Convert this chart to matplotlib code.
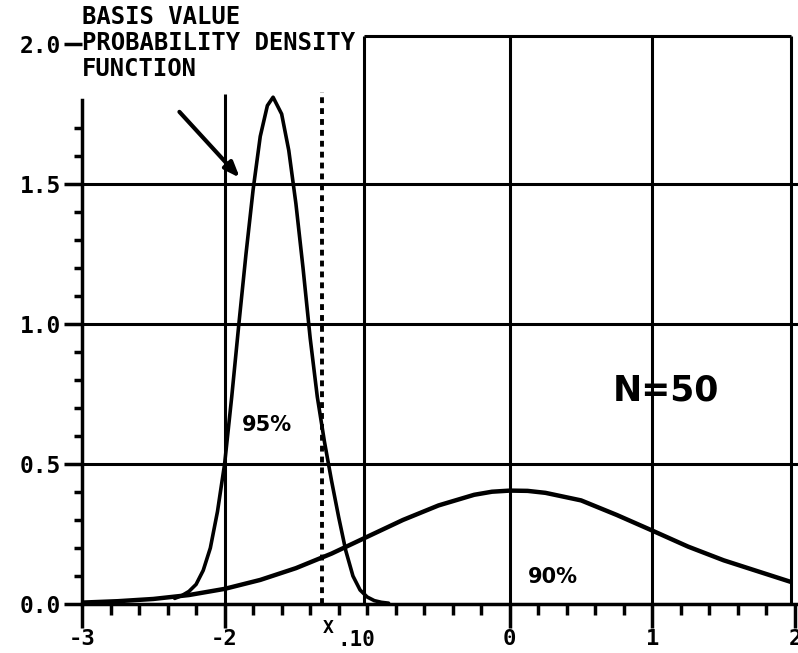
"""
Basis value probability density function, N=50.
"""
import matplotlib
matplotlib.use("Agg")
import matplotlib.pyplot as plt
from matplotlib.ticker import FixedLocator

# wide curve (population density)
wide_x = [-3.0, -2.75, -2.5, -2.25, -2.0, -1.75, -1.5, -1.25, -1.0, -0.75, -0.5, -0.25,
          -0.125, 0.0, 0.125, 0.25, 0.5, 0.75, 1.0, 1.25, 1.5, 1.75, 1.97]
wide_y = [0.005, 0.010, 0.018, 0.032, 0.054, 0.086, 0.128, 0.180, 0.240, 0.300, 0.352, 0.390,
          0.401, 0.405, 0.404, 0.397, 0.370, 0.318, 0.262, 0.205, 0.156, 0.115, 0.079]

# narrow curve (basis value density)
basis_x = [-2.35, -2.30, -2.25, -2.20, -2.15, -2.10, -2.05, -2.00, -1.95, -1.90, -1.85, -1.80,
           -1.75, -1.70, -1.66, -1.60, -1.55, -1.50, -1.45, -1.40, -1.35, -1.30, -1.25, -1.20,
           -1.15, -1.10, -1.05, -1.00, -0.95, -0.90, -0.85]
basis_y = [0.02, 0.03, 0.045, 0.07, 0.12, 0.20, 0.33, 0.50, 0.74, 1.00, 1.25, 1.48,
           1.67, 1.78, 1.81, 1.75, 1.62, 1.43, 1.20, 0.95, 0.74, 0.58, 0.44, 0.31,
           0.19, 0.10, 0.05, 0.025, 0.012, 0.006, 0.003]

x10 = -1.32  # X.10 position
xticks = [-3, -2, 0, 1, 2]
xtick_labels = ['-3', '-2', '0', '1', '2']
yticks = [0.0, 0.5, 1.0, 1.5, 2.0]
ytick_labels = ['0.0', '0.5', '1.0', '1.5', '2.0']

fig = plt.figure(figsize=(7.98, 6.53), dpi=100)
ax = fig.add_axes([82 / 798, 49 / 653, 716 / 798, 604 / 653])
ax.set_xlim(-3, 2.021)
ax.set_ylim(0, 604 / 280)

mono = 'DejaVu Sans Mono'
lw_grid = 2.2

# axes
for s in ['top', 'right']:
    ax.spines[s].set_visible(False)
ax.spines['left'].set_bounds(0, 1.8)
ax.spines['left'].set_linewidth(2.5)
ax.spines['bottom'].set_linewidth(2.5)

ax.xaxis.set_major_locator(FixedLocator(xticks))
ax.set_xticklabels(xtick_labels, fontfamily=mono, fontweight='bold', fontsize=16)
minor_x = [round(-3 + 0.2 * i, 1) for i in range(26)]
ax.xaxis.set_minor_locator(FixedLocator([v for v in minor_x if v not in xticks]))
ax.tick_params(axis='x', which='major', direction='out', length=17, width=2.5, pad=1)
ax.tick_params(axis='x', which='minor', direction='out', length=8, width=2.5)

ax.yaxis.set_major_locator(FixedLocator(yticks))
ax.set_yticklabels(ytick_labels, fontfamily=mono, fontweight='bold', fontsize=16.5)
minor_y = [round(0.1 * i, 1) for i in range(18)]
ax.yaxis.set_minor_locator(FixedLocator([v for v in minor_y if v not in yticks]))
ax.tick_params(axis='y', which='major', direction='out', length=13, width=2.5, pad=2)
ax.tick_params(axis='y', which='minor', direction='out', length=6, width=2.5)

# grid / frame
for yv in [0.5, 1.0, 1.5]:
    ax.axhline(yv, color='black', lw=lw_grid)
ax.vlines(-2, 0, 1.82, color='black', lw=lw_grid)
ax.vlines([-1.02, 0, 1, 1.97], 0, 2.03, color='black', lw=lw_grid)
ax.hlines(2.03, -1.02, 1.97, color='black', lw=lw_grid)

# X.10 dashed line
ax.vlines(x10, 0, 1.83, color='black', lw=2.8, linestyles=(0, (1.5, 1.3)))

# curves
ax.plot(wide_x, wide_y, color='black', lw=3.2, solid_capstyle='round', solid_joinstyle='round')
ax.plot(basis_x, basis_y, color='black', lw=2.6, solid_capstyle='round', solid_joinstyle='round')

# texts
ax.text(-3, 2.14, 'BASIS VALUE\nPROBABILITY DENSITY\nFUNCTION', fontfamily=mono,
        fontweight='bold', fontsize=17.2, va='top', ha='left', linespacing=1.1)
ax.annotate('', xy=(-1.88, 1.515), xytext=(-2.33, 1.765),
            arrowprops=dict(arrowstyle='-|>,head_length=0.9,head_width=0.35',
                            color='black', lw=3))
ax.text(-1.70, 0.64, '95%', fontsize=15, fontweight='bold', ha='center', va='center')
ax.text(0.30, 0.095, '90%', fontsize=15, fontweight='bold', ha='center', va='center')
ax.text(1.095, 0.764, 'N=50', fontsize=25, fontweight='bold', ha='center', va='center')
ax.text(x10 + 0.05, -0.085, 'X', fontfamily=mono, fontweight='bold', fontsize=13,
        ha='center', va='center', clip_on=False)
ax.text(x10 + 0.11, -0.13, '.10', fontfamily=mono, fontweight='bold', fontsize=15,
        ha='left', va='center', clip_on=False)

fig.savefig('out.png', dpi=100)
